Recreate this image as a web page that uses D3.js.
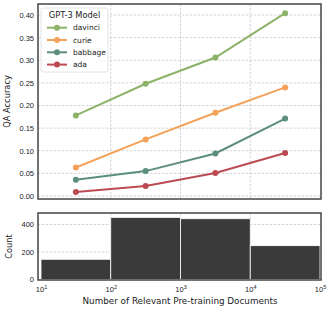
<!DOCTYPE html>
<html>
<head>
<meta charset="utf-8">
<script src="https://cdn.jsdelivr.net/npm/d3@7"></script>
<style>
  body { margin: 0; background: #fff; }
  svg { font-family: "DejaVu Sans", sans-serif; }
  .grid line { stroke: #c8c8c8; stroke-dasharray: 2.5,1.5; stroke-width: 0.8; }
  .tick text { fill: #222; }
</style>
</head>
<body>
<div id="chart"></div>
<script>
var w = 332, h = 310;

// bins of relevant docs (decade edges)
var binEdges = [1e1, 1e2, 1e3, 1e4, 1e5];
var binMids = [Math.pow(10, 1.5), Math.pow(10, 2.5), Math.pow(10, 3.5), Math.pow(10, 4.5)];
var models = ["davinci", "curie", "babbage", "ada"];
var colors = ["#8cb369", "#f4a259", "#5b8e7d", "#bc4b51"];
var davinci = [0.178, 0.248, 0.306, 0.404];
var curie = [0.063, 0.125, 0.184, 0.240];
var babbage = [0.036, 0.055, 0.094, 0.171];
var ada = [0.009, 0.022, 0.051, 0.095];
var counts = [147, 452, 442, 246];
var accTicks = [0, 0.05, 0.1, 0.15, 0.2, 0.25, 0.3, 0.35, 0.4];
var countTicks = [0, 200, 400];
var xTicks = [1e1, 1e2, 1e3, 1e4, 1e5];

var series = [davinci, curie, babbage, ada];

var left = 38, right = 321;
var top1 = 4, bot1 = 199;
var top2 = 213, bot2 = 280;

var svg = d3.select("#chart").append("svg").attr("width", w).attr("height", h);

var x = d3.scaleLog().domain([1e1, 1e5]).range([41, 320]);
var y1 = d3.scaleLinear().domain([0, 0.4]).range([196, 15]);
var y2 = d3.scaleLinear().domain([0, 400]).range([279.5, 224.5]);

/*
 * top panel: accuracy
 */
var g1 = svg.append("g");
g1.append("g").attr("class", "grid")
  .selectAll("line").data(accTicks).join("line")
  .attr("x1", left).attr("x2", right)
  .attr("y1", function(d){ return y1(d); }).attr("y2", function(d){ return y1(d); });
g1.append("g").attr("class", "grid")
  .selectAll("line").data([1e2, 1e3, 1e4]).join("line")
  .attr("y1", top1).attr("y2", bot1)
  .attr("x1", function(d){ return x(d); }).attr("x2", function(d){ return x(d); });

var line = d3.line()
  .x(function(d, i){ return x(binMids[i]); })
  .y(function(d){ return y1(d); });

for (var i = 0; i < series.length; i++) {
  g1.append("path").datum(series[i])
    .attr("d", line).attr("fill", "none")
    .attr("stroke", colors[i]).attr("stroke-width", 2);
  g1.selectAll(".pt" + i).data(series[i]).join("circle")
    .attr("cx", function(d, j){ return x(binMids[j]); })
    .attr("cy", function(d){ return y1(d); })
    .attr("r", 3).attr("fill", colors[i]);
}

var ax1 = d3.axisLeft(y1).tickValues(accTicks).tickSize(0).tickPadding(4)
  .tickFormat(d3.format(".2f"));
g1.append("g").attr("transform", "translate(" + left + ",0)").call(ax1)
  .call(function(g){ g.select(".domain").remove(); })
  .selectAll("text").attr("font-size", 7.5);

g1.append("rect").attr("x", left).attr("y", top1)
  .attr("width", right - left).attr("height", bot1 - top1)
  .attr("fill", "none").attr("stroke", "#444").attr("stroke-width", 1.5);

g1.append("text").attr("transform", "translate(10," + ((top1 + bot1) / 2) + ") rotate(-90)")
  .attr("text-anchor", "middle").attr("font-size", 8.3).attr("fill", "#222")
  .text("QA Accuracy");

// legend
var lg = g1.append("g");
lg.append("rect").attr("x", 41).attr("y", 8).attr("width", 67).attr("height", 64)
  .attr("rx", 2).attr("fill", "#fff").attr("fill-opacity", 0.85)
  .attr("stroke", "#ddd").attr("stroke-width", 0.8);
lg.append("text").attr("x", 74.5).attr("y", 18).attr("text-anchor", "middle")
  .attr("font-size", 8.3).attr("fill", "#222").text("GPT-3 Model");
models.forEach(function(m, i){
  var yy = 27.7 + i * 12.3;
  lg.append("line").attr("x1", 47).attr("x2", 67).attr("y1", yy).attr("y2", yy)
    .attr("stroke", colors[i]).attr("stroke-width", 2);
  lg.append("circle").attr("cx", 57).attr("cy", yy).attr("r", 3).attr("fill", colors[i]);
  lg.append("text").attr("x", 73).attr("y", yy + 2.7).attr("font-size", 7.5)
    .attr("fill", "#222").text(m);
});

/*
 * bottom panel: histogram
 */
var g2 = svg.append("g");
g2.append("g").attr("class", "grid")
  .selectAll("line").data(countTicks).join("line")
  .attr("x1", left).attr("x2", right)
  .attr("y1", function(d){ return y2(d); }).attr("y2", function(d){ return y2(d); });
g2.append("g").attr("class", "grid")
  .selectAll("line").data([1e2, 1e3, 1e4]).join("line")
  .attr("y1", top2).attr("y2", bot2)
  .attr("x1", function(d){ return x(d); }).attr("x2", function(d){ return x(d); });

g2.selectAll(".bar").data(counts).join("rect")
  .attr("x", function(d, i){ return x(binEdges[i]); })
  .attr("width", function(d, i){ return x(binEdges[i + 1]) - x(binEdges[i]); })
  .attr("y", function(d){ return y2(d); })
  .attr("height", function(d){ return y2(0) - y2(d); })
  .attr("fill", "#3a3a3a").attr("stroke", "#fff").attr("stroke-width", 0.8);

var ax2 = d3.axisLeft(y2).tickValues(countTicks).tickSize(0).tickPadding(4);
g2.append("g").attr("transform", "translate(" + left + ",0)").call(ax2)
  .call(function(g){ g.select(".domain").remove(); })
  .selectAll("text").attr("font-size", 7.5);

var ax3 = d3.axisBottom(x).tickValues(xTicks).tickSize(0).tickPadding(7)
  .tickFormat(function(){ return ""; });
var xg = g2.append("g").attr("transform", "translate(0," + bot2 + ")").call(ax3);
xg.select(".domain").remove();
xg.selectAll(".tick text").attr("font-size", 7.5)
  .each(function(d){
    var t = d3.select(this);
    t.append("tspan").text("10");
    t.append("tspan").attr("dy", -3.5).attr("font-size", 5.5)
      .text(Math.round(Math.log10(d)));
  });

g2.append("rect").attr("x", left).attr("y", top2)
  .attr("width", right - left).attr("height", bot2 - top2)
  .attr("fill", "none").attr("stroke", "#444").attr("stroke-width", 1.5);

g2.append("text").attr("transform", "translate(12," + ((top2 + bot2) / 2) + ") rotate(-90)")
  .attr("text-anchor", "middle").attr("font-size", 8.3).attr("fill", "#222")
  .text("Count");

svg.append("text").attr("x", 180).attr("y", 304).attr("text-anchor", "middle")
  .attr("font-size", 8.8).attr("fill", "#222")
  .text("Number of Relevant Pre-training Documents");
</script>
</body>
</html>
